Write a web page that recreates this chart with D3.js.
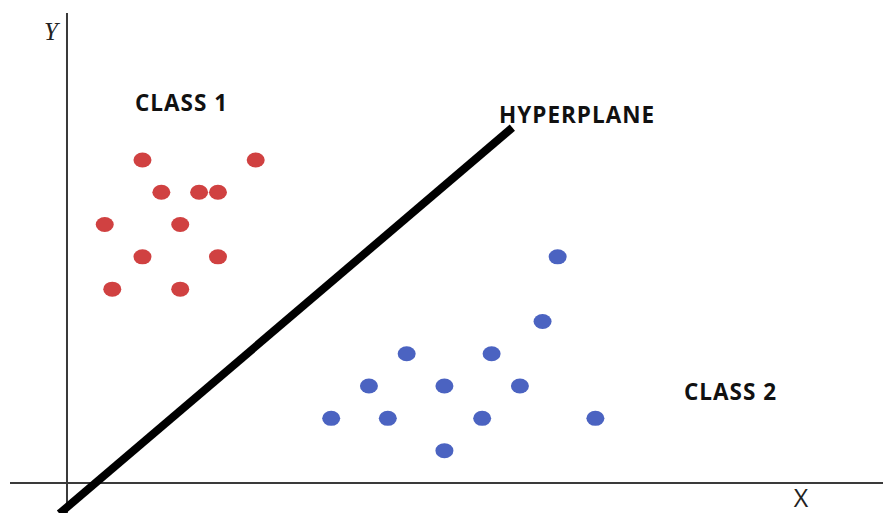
<!DOCTYPE html>
<html>
<head>
<meta charset="utf-8">
<script src="https://cdn.jsdelivr.net/npm/d3@7"></script>
<style>
  html, body { margin: 0; padding: 0; background: #fff; }
  svg { display: block; }
  .lbl { font-family: "Open Sans", sans-serif; font-weight: bold; fill: #111; font-size: 22.5px; letter-spacing: 1px; }
</style>
</head>
<body>
<div id="chart"></div>
<script>
// class 1 (red) points, grid units
const class1X = [4, 10, 5, 7, 8, 2, 6, 4, 8, 2.4, 6];
const class1Y = [10, 10, 9, 9, 9, 8, 8, 7, 7, 6, 6];

// class 2 (blue) points
const class2X = [26, 25.2, 18, 22.5, 16, 20, 24, 14, 17, 22, 28, 20];
const class2Y = [7, 5, 4, 4, 3, 3, 3, 2, 2, 2, 2, 1];

// separating line end points
const hyperX = [-0.4, 23.6];
const hyperY = [-0.95, 11];

const labels = ["CLASS 1", "CLASS 2", "HYPERPLANE"];

const width = 883, height = 513;

const svg = d3.select("#chart").append("svg")
    .attr("width", width)
    .attr("height", height);

const x = d3.scaleLinear().domain([-3.02, 43.24]).range([10, 883]);
const y = d3.scaleLinear().domain([-0.93, 14.55]).range([513, 13]);

// axes
svg.append("line")
    .attr("x1", x(-3.02)).attr("x2", x(43.24))
    .attr("y1", y(0)).attr("y2", y(0))
    .style("stroke", "#3a3a3a").style("stroke-width", 2);

svg.append("line")
    .attr("x1", x(0)).attr("x2", x(0))
    .attr("y1", y(-0.93)).attr("y2", y(14.55))
    .style("stroke", "#3a3a3a").style("stroke-width", 2);

svg.append("text")
    .attr("x", x(0) - 16).attr("y", 40)
    .attr("text-anchor", "middle")
    .style("font-family", "'Liberation Serif', serif")
    .style("font-style", "italic")
    .style("font-size", "25px")
    .style("fill", "#222")
    .text("Y");

svg.append("text")
    .attr("x", 801).attr("y", 507)
    .attr("text-anchor", "middle")
    .style("font-family", "'Open Sans', sans-serif")
    .style("font-size", "25px")
    .style("fill", "#222")
    .text("X");

// hyperplane
svg.append("line")
    .attr("x1", x(hyperX[0])).attr("y1", y(hyperY[0]))
    .attr("x2", x(hyperX[1])).attr("y2", y(hyperY[1]))
    .style("stroke", "#000")
    .style("stroke-width", 8);

const pts1 = class1X.map((v, i) => ({x: v, y: class1Y[i]}));
const pts2 = class2X.map((v, i) => ({x: v, y: class2Y[i]}));

svg.selectAll(".c1")
    .data(pts1)
    .enter()
    .append("ellipse")
    .attr("class", "c1")
    .attr("cx", d => x(d.x))
    .attr("cy", d => y(d.y))
    .attr("rx", 9)
    .attr("ry", 7.5)
    .attr("fill", "#d04141");

svg.selectAll(".c2")
    .data(pts2)
    .enter()
    .append("ellipse")
    .attr("class", "c2")
    .attr("cx", d => x(d.x))
    .attr("cy", d => y(d.y))
    .attr("rx", 9)
    .attr("ry", 7.5)
    .attr("fill", "#4b63c1");

// text labels
svg.append("text").attr("class", "lbl")
    .attr("x", 135).attr("y", 111)
    .text(labels[0]);

svg.append("text").attr("class", "lbl")
    .attr("x", 684).attr("y", 400)
    .text(labels[1]);

svg.append("text").attr("class", "lbl")
    .attr("x", 499).attr("y", 123)
    .text(labels[2]);
</script>
</body>
</html>
